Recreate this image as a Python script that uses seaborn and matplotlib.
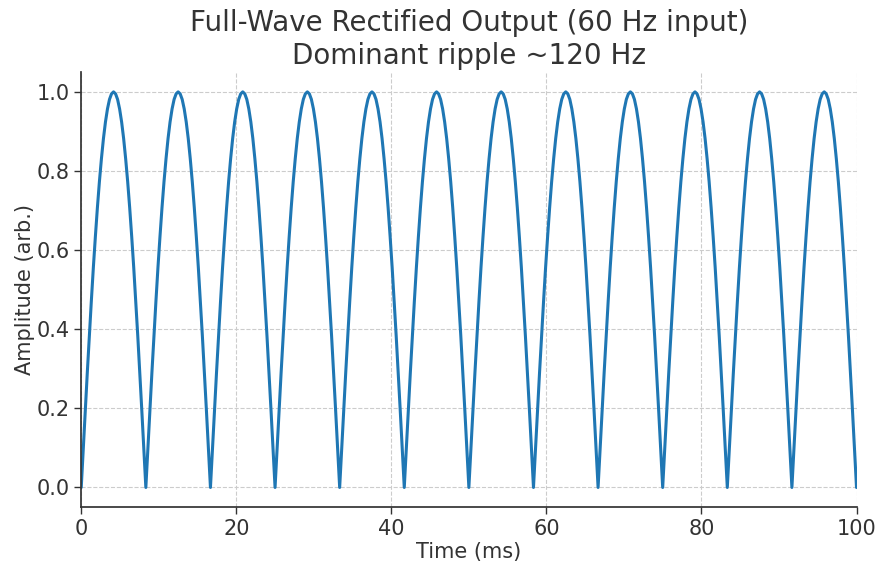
import numpy as np
import pandas as pd
import matplotlib
matplotlib.use("Agg")
import matplotlib.pyplot as plt
import seaborn as sns

duration_ms = [0.0, 100.0]
amplitude = [
    0.000, 0.098, 0.195, 0.290, 0.383, 0.471, 0.556, 0.634, 0.707, 0.773, 0.831, 0.882, 0.924, 0.957, 0.981, 0.995, 1.000, 0.995, 0.981, 0.957, 0.924, 0.882, 0.831, 0.773, 0.707, 0.634, 0.556, 0.471, 0.383, 0.290, 0.195, 0.098,
    0.000, 0.098, 0.195, 0.290, 0.383, 0.471, 0.556, 0.634, 0.707, 0.773, 0.831, 0.882, 0.924, 0.957, 0.981, 0.995, 1.000, 0.995, 0.981, 0.957, 0.924, 0.882, 0.831, 0.773, 0.707, 0.634, 0.556, 0.471, 0.383, 0.290, 0.195, 0.098,
    0.000, 0.098, 0.195, 0.290, 0.383, 0.471, 0.556, 0.634, 0.707, 0.773, 0.831, 0.882, 0.924, 0.957, 0.981, 0.995, 1.000, 0.995, 0.981, 0.957, 0.924, 0.882, 0.831, 0.773, 0.707, 0.634, 0.556, 0.471, 0.383, 0.290, 0.195, 0.098,
    0.000, 0.098, 0.195, 0.290, 0.383, 0.471, 0.556, 0.634, 0.707, 0.773, 0.831, 0.882, 0.924, 0.957, 0.981, 0.995, 1.000, 0.995, 0.981, 0.957, 0.924, 0.882, 0.831, 0.773, 0.707, 0.634, 0.556, 0.471, 0.383, 0.290, 0.195, 0.098,
    0.000, 0.098, 0.195, 0.290, 0.383, 0.471, 0.556, 0.634, 0.707, 0.773, 0.831, 0.882, 0.924, 0.957, 0.981, 0.995, 1.000, 0.995, 0.981, 0.957, 0.924, 0.882, 0.831, 0.773, 0.707, 0.634, 0.556, 0.471, 0.383, 0.290, 0.195, 0.098,
    0.000, 0.098, 0.195, 0.290, 0.383, 0.471, 0.556, 0.634, 0.707, 0.773, 0.831, 0.882, 0.924, 0.957, 0.981, 0.995, 1.000, 0.995, 0.981, 0.957, 0.924, 0.882, 0.831, 0.773, 0.707, 0.634, 0.556, 0.471, 0.383, 0.290, 0.195, 0.098,
    0.000, 0.098, 0.195, 0.290, 0.383, 0.471, 0.556, 0.634, 0.707, 0.773, 0.831, 0.882, 0.924, 0.957, 0.981, 0.995, 1.000, 0.995, 0.981, 0.957, 0.924, 0.882, 0.831, 0.773, 0.707, 0.634, 0.556, 0.471, 0.383, 0.290, 0.195, 0.098,
    0.000, 0.098, 0.195, 0.290, 0.383, 0.471, 0.556, 0.634, 0.707, 0.773, 0.831, 0.882, 0.924, 0.957, 0.981, 0.995, 1.000, 0.995, 0.981, 0.957, 0.924, 0.882, 0.831, 0.773, 0.707, 0.634, 0.556, 0.471, 0.383, 0.290, 0.195, 0.098,
    0.000, 0.098, 0.195, 0.290, 0.383, 0.471, 0.556, 0.634, 0.707, 0.773, 0.831, 0.882, 0.924, 0.957, 0.981, 0.995, 1.000, 0.995, 0.981, 0.957, 0.924, 0.882, 0.831, 0.773, 0.707, 0.634, 0.556, 0.471, 0.383, 0.290, 0.195, 0.098,
    0.000, 0.098, 0.195, 0.290, 0.383, 0.471, 0.556, 0.634, 0.707, 0.773, 0.831, 0.882, 0.924, 0.957, 0.981, 0.995, 1.000, 0.995, 0.981, 0.957, 0.924, 0.882, 0.831, 0.773, 0.707, 0.634, 0.556, 0.471, 0.383, 0.290, 0.195, 0.098,
    0.000, 0.098, 0.195, 0.290, 0.383, 0.471, 0.556, 0.634, 0.707, 0.773, 0.831, 0.882, 0.924, 0.957, 0.981, 0.995, 1.000, 0.995, 0.981, 0.957, 0.924, 0.882, 0.831, 0.773, 0.707, 0.634, 0.556, 0.471, 0.383, 0.290, 0.195, 0.098,
    0.000, 0.098, 0.195, 0.290, 0.383, 0.471, 0.556, 0.634, 0.707, 0.773, 0.831, 0.882, 0.924, 0.957, 0.981, 0.995, 1.000, 0.995, 0.981, 0.957, 0.924, 0.882, 0.831, 0.773, 0.707, 0.634, 0.556, 0.471, 0.383, 0.290, 0.195, 0.098,
    0.000,
]
x_ticks = [0, 20, 40, 60, 80, 100]
y_ticks = [0.0, 0.2, 0.4, 0.6, 0.8, 1.0]
title_text = "Full-Wave Rectified Output (60 Hz input)\nDominant ripple ~120 Hz"
x_label = "Time (ms)"
y_label = "Amplitude (arb.)"

time_ms = np.linspace(duration_ms[0], duration_ms[1], len(amplitude))
df = pd.DataFrame({"time": time_ms, "amp": amplitude})

sns.set_theme(style="ticks")
text_color = "#333333"
plt.rcParams["font.family"] = ["DejaVu Sans"]
plt.rcParams.update({
    "text.color": text_color,
    "axes.labelcolor": text_color,
    "xtick.color": text_color,
    "ytick.color": text_color,
    "axes.edgecolor": text_color,
})

fig, ax = plt.subplots(figsize=(8.83, 5.63), dpi=100)
sns.lineplot(data=df, x="time", y="amp", ax=ax, color="#1f77b4", linewidth=2.2)

ax.set_xlim(0, 100)
ax.set_ylim(-0.05, 1.05)
ax.set_xticks(x_ticks)
ax.set_yticks(y_ticks)
ax.set_yticklabels([f"{v:.1f}" for v in y_ticks])
ax.grid(True, linestyle="--", color="#cccccc", linewidth=0.8)
ax.set_axisbelow(True)
sns.despine(ax=ax)
ax.tick_params(labelsize=15, length=5, width=1)
ax.set_xlabel(x_label, fontsize=15, labelpad=2)
ax.set_ylabel(y_label, fontsize=15, labelpad=1)
ax.set_title(title_text, fontsize=20)

fig.subplots_adjust(left=0.092, right=0.970, top=0.872, bottom=0.099)
fig.savefig("out.png", dpi=100)
